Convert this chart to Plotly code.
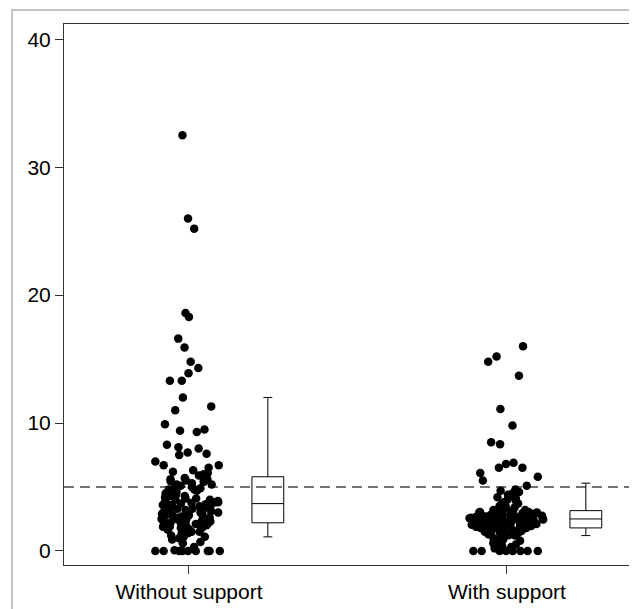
import plotly.graph_objects as go

# ---------------- data ----------------
categories = ["Without support", "With support"]

without_support = [
    32.5, 26.0, 25.2, 18.6, 18.3, 16.6, 15.9, 14.8, 14.3, 13.9, 13.3, 13.3,
    12.0, 11.3, 11.0, 9.9, 9.5, 9.4, 9.3, 8.3, 8.1, 8.0, 7.7, 7.6, 7.5, 7.0,
    6.7, 6.7, 6.5, 6.3, 6.2, 6.1, 6.0, 5.9,
    5.7, 5.6, 5.6, 5.5, 5.45, 5.4, 5.3, 5.2, 5.2, 5.1, 5.0, 5.0, 4.9, 4.8,
    4.8, 4.7, 4.6, 4.5, 4.5, 4.4, 4.3, 4.3, 4.2, 4.1, 4.1, 4.0, 4.0, 3.9,
    3.9, 3.8, 3.8, 3.8, 3.75, 3.7,
    3.65, 3.6, 3.6, 3.5, 3.5, 3.4, 3.4, 3.3, 3.3, 3.2, 3.2, 3.1, 3.1, 3.0,
    3.0, 2.9, 2.9, 2.8, 2.8, 2.8, 2.7, 2.7, 2.6, 2.6, 2.5, 2.5, 2.5, 2.4,
    2.4, 2.3, 2.3, 2.3, 2.2, 2.2,
    2.1, 2.1, 2.0, 2.0, 1.9, 1.9, 1.9, 1.8, 1.8, 1.7, 1.65, 1.6, 1.5, 1.5,
    1.4, 1.3, 1.2, 1.1, 1.1, 1.0, 0.9, 0.7, 0.6, 0.3, 0.05,
    0, 0, 0, 0, 0, 0, 0, 0, 0,
]

with_support = [
    16.0, 15.2, 14.8, 13.7, 11.1, 9.8, 8.5, 8.35, 6.9, 6.8, 6.5, 6.5, 6.1,
    5.8, 5.5, 5.1, 4.8, 4.7, 4.6, 4.5, 4.4, 4.3, 4.25, 4.2, 4.1, 4.0, 3.9,
    3.8, 3.7, 3.6, 3.5, 3.5, 3.4, 3.3, 3.3, 3.2, 3.2,
    3.1, 3.1, 3.05, 3.05, 3.0, 3.0, 3.0, 2.95, 2.95, 2.9, 2.9, 2.9, 2.85,
    2.85, 2.8, 2.8, 2.8, 2.75, 2.75, 2.7, 2.7, 2.7, 2.7, 2.65, 2.65, 2.6,
    2.6, 2.6, 2.6, 2.6, 2.55, 2.55, 2.5, 2.5, 2.5, 2.5, 2.5,
    2.45, 2.45, 2.4, 2.4, 2.4, 2.35, 2.35, 2.3, 2.3, 2.3, 2.3, 2.25, 2.25,
    2.2, 2.2, 2.2, 2.15, 2.15, 2.1, 2.1, 2.1, 2.05, 2.05, 2.0, 2.0, 2.0,
    2.0, 1.95, 1.95, 1.9, 1.9, 1.9, 1.85, 1.85, 1.8, 1.8, 1.8,
    1.75, 1.7, 1.7, 1.65, 1.6, 1.6, 1.55, 1.5, 1.5, 1.45, 1.4, 1.4, 1.35,
    1.3, 1.3, 1.25, 1.2, 1.2, 1.1, 1.0, 0.9, 0.8, 0.7, 0.6, 0.5, 0.4, 0.3,
    0.2, 0.1, 0, 0, 0, 0, 0, 0, 0, 0,
]

box_q1 = [2.2, 1.8]
box_median = [3.7, 2.5]
box_q3 = [5.8, 3.15]
box_lower = [1.1, 1.2]
box_upper = [12.0, 5.3]

reference_level = 5
y_ticks = [0, 10, 20, 30, 40]

# ---------------- styling constants ----------------
FONT = "Liberation Sans, Arial, Helvetica, sans-serif"
BOX_OFFSET = 0.248      # summary box drawn to the right of each strip
STRIP_WIDTH = 0.25      # jitter band width (data units)
BOX_WIDTH = 0.1
TAIL_SPLIT = [6.4, 5.0]  # sparse upper tail jittered as its own band

fig = go.Figure()


def strip(i, vals):
    fig.add_trace(go.Box(
        x=[i] * len(vals),
        y=vals,
        boxpoints="all",
        jitter=1,
        pointpos=0,
        width=STRIP_WIDTH,
        fillcolor="rgba(0,0,0,0)",
        line=dict(width=0, color="rgba(0,0,0,0)"),
        marker=dict(color="black", size=8.5, line=dict(width=0)),
        hoveron="points",
        showlegend=False,
        name=categories[i],
    ))


series = [without_support, with_support]
for i, vals in enumerate(series):
    core = [v for v in vals if v <= TAIL_SPLIT[i]]
    tail = [v for v in vals if v > TAIL_SPLIT[i]]
    strip(i, core)
    strip(i, tail)

fig.add_trace(go.Box(
    x=[i + BOX_OFFSET for i in range(len(categories))],
    q1=box_q1,
    median=box_median,
    q3=box_q3,
    lowerfence=box_lower,
    upperfence=box_upper,
    width=BOX_WIDTH,
    whiskerwidth=0.28,
    boxpoints=False,
    fillcolor="rgba(0,0,0,0)",
    line=dict(color="black", width=1),
    showlegend=False,
    name="summary",
))

# dashed reference line
fig.add_shape(type="line", xref="paper", x0=0, x1=1, yref="y",
              y0=reference_level, y1=reference_level,
              line=dict(color="#444", width=1.6, dash="10px,6px"), layer="below")

# light outer frame
fig.add_shape(type="rect", xref="paper", yref="paper",
              x0=-0.0917, x1=1.0088, y0=-0.12, y1=1.0259,
              line=dict(color="#b0b0b0", width=1.5), layer="below")

fig.update_layout(
    width=629, height=601,
    margin=dict(l=56, r=6, t=16, b=44),
    paper_bgcolor="white",
    plot_bgcolor="white",
    font=dict(family=FONT, size=21, color="black"),
    boxmode="overlay",
    showlegend=False,
)

fig.update_xaxes(
    range=[-0.393, 1.39],
    tickmode="array",
    tickvals=list(range(len(categories))),
    ticktext=categories,
    ticks="outside", ticklen=8, tickcolor="#333", tickwidth=1,
    showline=True, linecolor="#333", linewidth=1, mirror=True,
    showgrid=False, zeroline=False,
    tickfont=dict(size=21),
)
fig.update_yaxes(
    range=[-1.1, 41.2],
    tickmode="array",
    tickvals=y_ticks,
    ticks="outside", ticklen=8, tickcolor="#333", tickwidth=1,
    showline=True, linecolor="#333", linewidth=1, mirror=True,
    showgrid=False, zeroline=False,
    tickfont=dict(size=21),
)

fig.write_html("out.html")
